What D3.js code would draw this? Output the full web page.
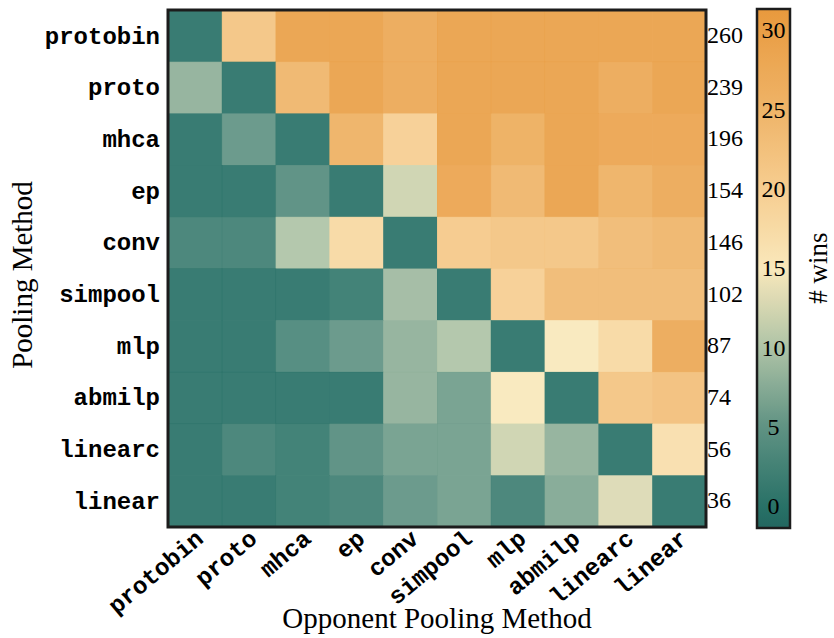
<!DOCTYPE html>
<html>
<head>
<meta charset="utf-8">
<script src="https://cdn.jsdelivr.net/npm/d3@7"></script>
<style>
  body { margin: 0; background: #fff; }
  svg { display: block; }
</style>
</head>
<body>
<div id="chart"></div>
<script>
// methods, row = pooling method, column = opponent
var methods = ["protobin", "proto", "mhca", "ep", "conv", "simpool", "mlp", "abmilp", "linearc", "linear"];

// wins of row method against column method
var protobinWins = [0, 22, 30, 30, 28, 30, 30, 30, 30, 30];
var protoWins    = [8, 0, 25, 30, 28, 30, 30, 30, 28, 30];
var mhcaWins     = [0, 5, 0, 26, 20, 30, 27, 30, 29, 29];
var epWins       = [0, 0, 4, 0, 12, 29, 25, 30, 26, 28];
var convWins     = [2, 2, 10, 18, 0, 21, 22, 22, 24, 25];
var simpoolWins  = [0, 0, 0, 1, 9, 0, 20, 24, 24, 24];
var mlpWins      = [0, 0, 3, 5, 8, 10, 0, 15, 18, 28];
var abmilpWins   = [0, 0, 0, 0, 8, 6, 15, 0, 22, 23];
var linearcWins  = [0, 2, 1, 4, 6, 6, 12, 8, 0, 17];
var linearWins   = [0, 0, 1, 2, 5, 6, 2, 7, 13, 0];

var totals = [260, 239, 196, 154, 146, 102, 87, 74, 56, 36];
var cbTicks = [0, 5, 10, 15, 20, 25, 30];

var rows = [protobinWins, protoWins, mhcaWins, epWins, convWins,
            simpoolWins, mlpWins, abmilpWins, linearcWins, linearWins];

var width = 834, height = 638;
var hmLeft = 168, hmRight = 706, hmTop = 10, hmBottom = 527;

var svg = d3.select("#chart").append("svg")
    .attr("width", width).attr("height", height);

var x = d3.scaleBand().domain(methods).range([hmLeft, hmRight]);
var y = d3.scaleBand().domain(methods).range([hmTop, hmBottom]);

var vmin = -1.36, vmax = 31.36;
var color = d3.scaleLinear()
    .domain([vmin, 0, 5, 10, 15, 20, 25, vmax])
    .range(["#236760", "#287167", "#5f9283", "#aec3a6", "#f9e8bb", "#f6cd90", "#efb468", "#e8993d"])
    .interpolate(d3.interpolateRgb)
    .clamp(true);

var cells = [];
rows.forEach(function (r, i) {
    r.forEach(function (v, j) {
        cells.push({ row: methods[i], col: methods[j], value: v });
    });
});

svg.append("g").selectAll("rect")
    .data(cells)
    .enter()
    .append("rect")
    .attr("x", function (d) { return x(d.col); })
    .attr("y", function (d) { return y(d.row); })
    .attr("width", x.bandwidth() + 0.5)
    .attr("height", y.bandwidth() + 0.5)
    .attr("fill", function (d) { return color(d.value); })
    .attr("fill-opacity", 0.92);

svg.append("rect")
    .attr("x", hmLeft).attr("y", hmTop)
    .attr("width", hmRight - hmLeft).attr("height", hmBottom - hmTop)
    .attr("fill", "none").attr("stroke", "#1c1c1c").attr("stroke-width", 3);

// row labels
svg.append("g").selectAll("text")
    .data(methods)
    .enter()
    .append("text")
    .attr("x", 160)
    .attr("y", function (d) { return y(d) + y.bandwidth() / 2; })
    .attr("dy", "0.32em")
    .attr("text-anchor", "end")
    .style("font-family", "'Liberation Mono', 'Courier New', monospace")
    .style("font-weight", "bold")
    .style("font-size", "24px")
    .text(function (d) { return d; });

// column labels
svg.append("g").selectAll("text")
    .data(methods)
    .enter()
    .append("text")
    .attr("transform", function (d) {
        return "translate(" + (x(d) + x.bandwidth() / 2 + 5) + "," + 535 + ") rotate(-40)";
    })
    .attr("dy", "0.32em")
    .attr("text-anchor", "end")
    .style("font-family", "'Liberation Mono', 'Courier New', monospace")
    .style("font-weight", "bold")
    .style("font-size", "24px")
    .text(function (d) { return d; });

// row totals
svg.append("g").selectAll("text")
    .data(totals)
    .enter()
    .append("text")
    .attr("x", 707)
    .attr("y", function (d, i) { return y(methods[i]) + y.bandwidth() / 2; })
    .attr("dy", "0.3em")
    .style("font-family", "'Liberation Serif', 'Times New Roman', serif")
    .style("font-size", "24px")
    .text(function (d) { return d; });

// axis titles
svg.append("text")
    .attr("transform", "translate(32,275) rotate(-90)")
    .attr("text-anchor", "middle")
    .style("font-family", "'Liberation Serif', 'Times New Roman', serif")
    .style("font-size", "29px")
    .text("Pooling Method");

svg.append("text")
    .attr("x", 437).attr("y", 628)
    .attr("text-anchor", "middle")
    .style("font-family", "'Liberation Serif', 'Times New Roman', serif")
    .style("font-size", "29px")
    .text("Opponent Pooling Method");

// colorbar
var cbX = 757, cbW = 33;
var cbY = d3.scaleLinear().domain([vmin, vmax]).range([528, 9]);

var grad = svg.append("defs").append("linearGradient")
    .attr("id", "cbgrad")
    .attr("x1", 0).attr("y1", 1).attr("x2", 0).attr("y2", 0);
grad.selectAll("stop")
    .data(d3.range(0, 1.0001, 0.02))
    .enter()
    .append("stop")
    .attr("offset", function (t) { return t; })
    .attr("stop-color", function (t) { return color(vmin + t * (vmax - vmin)); });

svg.append("rect")
    .attr("x", cbX).attr("y", cbY(vmax))
    .attr("width", cbW).attr("height", cbY(vmin) - cbY(vmax))
    .attr("fill", "url(#cbgrad)")
    .attr("stroke", "#1c1c1c").attr("stroke-width", 2.5);

svg.append("g").selectAll("text")
    .data(cbTicks)
    .enter()
    .append("text")
    .attr("x", cbX + cbW / 2)
    .attr("y", function (d) { return cbY(d); })
    .attr("dy", "0.33em")
    .attr("text-anchor", "middle")
    .style("font-family", "'Liberation Serif', 'Times New Roman', serif")
    .style("font-size", "24px")
    .text(function (d) { return d; });

svg.append("text")
    .attr("transform", "translate(818,268) rotate(-90)")
    .attr("text-anchor", "middle")
    .attr("dy", "0.32em")
    .style("font-family", "'Liberation Serif', 'Times New Roman', serif")
    .style("font-size", "27px")
    .text("# wins");
</script>
</body>
</html>
